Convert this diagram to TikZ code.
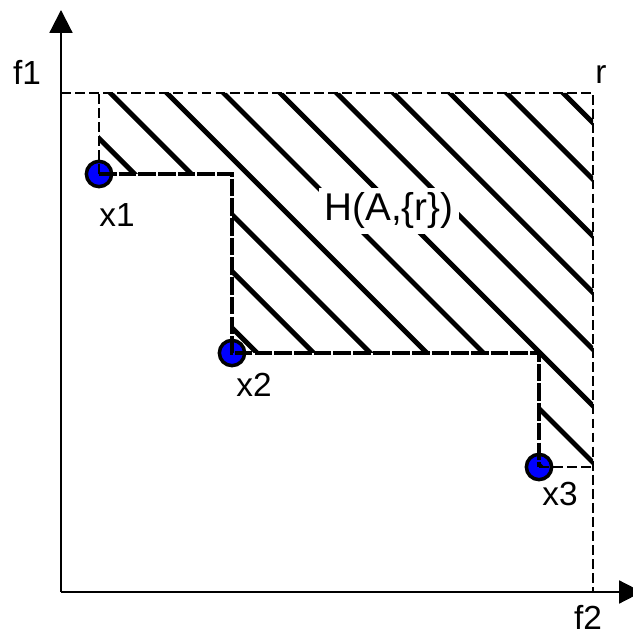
\documentclass[tikz,border=0pt]{standalone}
\usepackage{fontspec}
\setmainfont{Liberation Sans}
\usepackage{tikz}
\usetikzlibrary{arrows.meta}
\usetikzlibrary{positioning}

\begin{document}
\begin{tikzpicture}[
  every node/.style={font=\fontsize{9.5}{11}\selectfont},
  axis/.style={line width=0.6pt,-{Triangle[length=6.5pt,width=6.5pt]}},
  refline/.style={line width=0.4pt,dash pattern=on 2.8pt off 1.2pt},
  front/.style={line width=1.15pt,dash pattern=on 5pt off 0.6pt},
  hatch/.style={line width=1.4pt},
  dot/.style={circle,draw=black,fill=blue,line width=1pt,minimum size=7.2pt,inner sep=0pt}]
\useasboundingbox (-0.61,-0.41) rectangle (5.72,5.92);
\coordinate (O) at (0,0);
\coordinate (r) at (5.32,4.99);
\node[dot] (x1) at (0.38,4.18) {};
\node[dot] (x2) at (1.71,2.39) {};
\node[dot] (x3) at (4.78,1.25) {};
% hatched region
\begin{scope}
  \clip (x1.center |- r) -- (r) -- (r |- x3.center) -- (x3.center) |- (x2.center) |- (x1.center) -- cycle;
  \foreach \k in {-2,...,8}{
    \pgfmathsetmacro\s{5.483+0.566*\k}
    \draw[hatch] (\s-6,6) -- (\s+1,-1);
  }
\end{scope}
% axes and reference box
\draw[axis] (O) -- (5.81,0);
\draw[axis] (O) -- (0,5.82);
\draw[refline] (O |- r) -- (r) -- (r |- O);
\draw[refline] (x1.center) -- (x1.center |- r);
\draw[refline] (x3.center) -- (x3.center -| r);
\draw[front] (x1.center) -| (x2.center) -| (x3.center);
% labels
\node (f1) at (-0.34,5.20) {f1};
\node (f2) at (5.27,-0.25) {f2};
\node (rl) at (5.40,5.17) {r};
\node (l1) at (0.56,3.77) {x1};
\node (l2) at (1.93,2.07) {x2};
\node (l3) at (4.99,0.98) {x3};
\node[font=\fontsize{11}{13}\selectfont,fill=white,inner sep=1.5pt] (H) at (3.28,3.81) {H(A,\{r\})};
\end{tikzpicture}
\end{document}
